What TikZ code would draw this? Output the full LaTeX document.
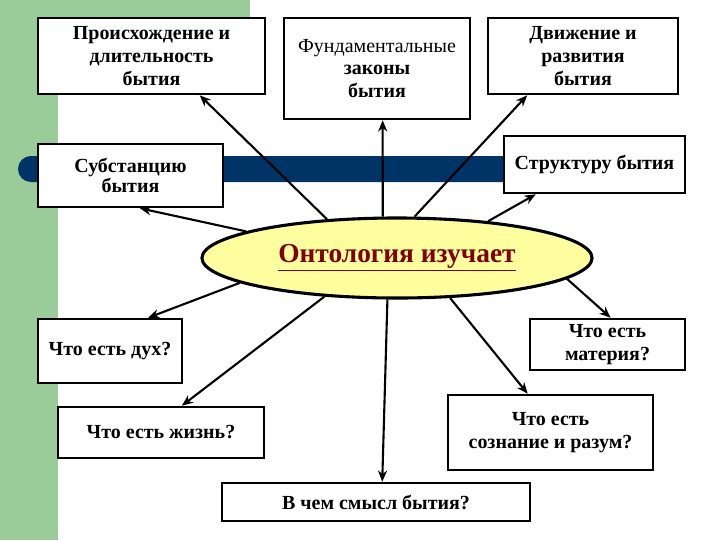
\documentclass[tikz,border=0pt]{standalone}
\usepackage{fontspec}
\setmainfont{Liberation Serif}
\usetikzlibrary{arrows.meta, positioning, shapes.geometric, calc}
\definecolor{ontgreen}{RGB}{153,204,153}
\definecolor{ontnavy}{RGB}{0,51,102}
\definecolor{ontyellow}{RGB}{255,255,160}
\definecolor{ontred}{RGB}{128,0,0}

\begin{document}
\begin{tikzpicture}[x=0.025cm, y=-0.025cm, font=\bfseries\fontsize{14.2}{16.3}\selectfont,
    topic/.style={draw, line width=1.8pt, fill=white, align=center, inner sep=1pt},
    link/.style={-{Stealth[length=8pt, width=6.5pt]}, line width=1.5pt}]
	\useasboundingbox (0,0) rectangle (720,540);
	% background
	\fill[ontgreen] (0,0) rectangle (250,95);
	\fill[ontgreen] (0,0) rectangle (58,540);
	\fill[ontnavy, rounded corners=9.2pt] (18,156) rectangle (620,182);
	% top row
	\node[topic, minimum width=5.675cm, minimum height=1.9cm] (origin) at (151.5,56)
	      {Происхождение и\\длительность\\бытия};
	\node[topic, minimum width=4.65cm, minimum height=2.525cm] (laws) at (377,68.5)
	      {{\mdseries Фундаментальные}\\законы\\бытия};
	\node[topic, minimum width=4.75cm, minimum height=1.9cm] (motion) at (583,56)
	      {Движение и\\развития\\бытия};
	\node[topic, minimum width=4.625cm, minimum height=1.575cm] (subst) at (130.5,175.5)
	      {Субстанцию\\[-2pt]бытия};
	\node[topic, minimum width=4.525cm, minimum height=1.425cm] (struct) at (594.5,164.5)
	      {Структуру бытия};
	% centre
	\node[ellipse, draw, line width=2.2pt, fill=ontyellow, minimum width=9.75cm,
	      minimum height=2cm, inner sep=0pt, text=ontred,
	      font=\bfseries\fontsize{19.5}{22}\selectfont] (onto) at (397,258)
	      {\underline{Онтология изучает}};
	% bottom part
	\node[topic, minimum width=3.6cm, minimum height=1.6cm] (spirit) at (110,351)
	      {Что есть дух?};
	\node[topic, minimum width=3.875cm, minimum height=1.275cm] (matter) at (607.5,344.5)
	      {Что есть\\материя?};
	\node[topic, minimum width=5.15cm, minimum height=1.275cm] (life) at (161,432.5)
	      {Что есть жизнь?};
	\node[topic, minimum width=5.125cm, minimum height=1.875cm] (mind) at (550.5,432.5)
	      {Что есть\\сознание и разум?};
	\node[topic, minimum width=7.7cm, minimum height=0.95cm] (meaning) at (376,502)
	      {В чем смысл бытия?};
	% arrows
	\draw[link] (onto.151.5) -- ($(origin.south west)!0.71!(origin.south east)$);
	\draw[link] (onto.109.7) -- ($(laws.south west)!0.53!(laws.south east)$);
	\draw[link] (onto.67.7) -- ($(motion.south west)!0.21!(motion.south east)$);
	\draw[link] (onto.22.7) -- ($(struct.south west)!0.18!(struct.south east)$);
	\draw[link] (onto.170.3) -- ($(subst.south west)!0.55!(subst.south east)$);
	\draw[link] (onto.189.7) -- ($(spirit.north west)!0.76!(spirit.north east)$);
	\draw[link] (onto.208.2) -- ($(life.north west)!0.6!(life.north east)$);
	\draw[link] (onto.257) -- ($(meaning.north west)!0.52!(meaning.north east)$);
	\draw[link] (onto.323) -- ($(mind.north west)!0.39!(mind.north east)$);
	\draw[link] (onto.353.1) -- ($(matter.north west)!0.52!(matter.north east)$);
\end{tikzpicture}
\end{document}
